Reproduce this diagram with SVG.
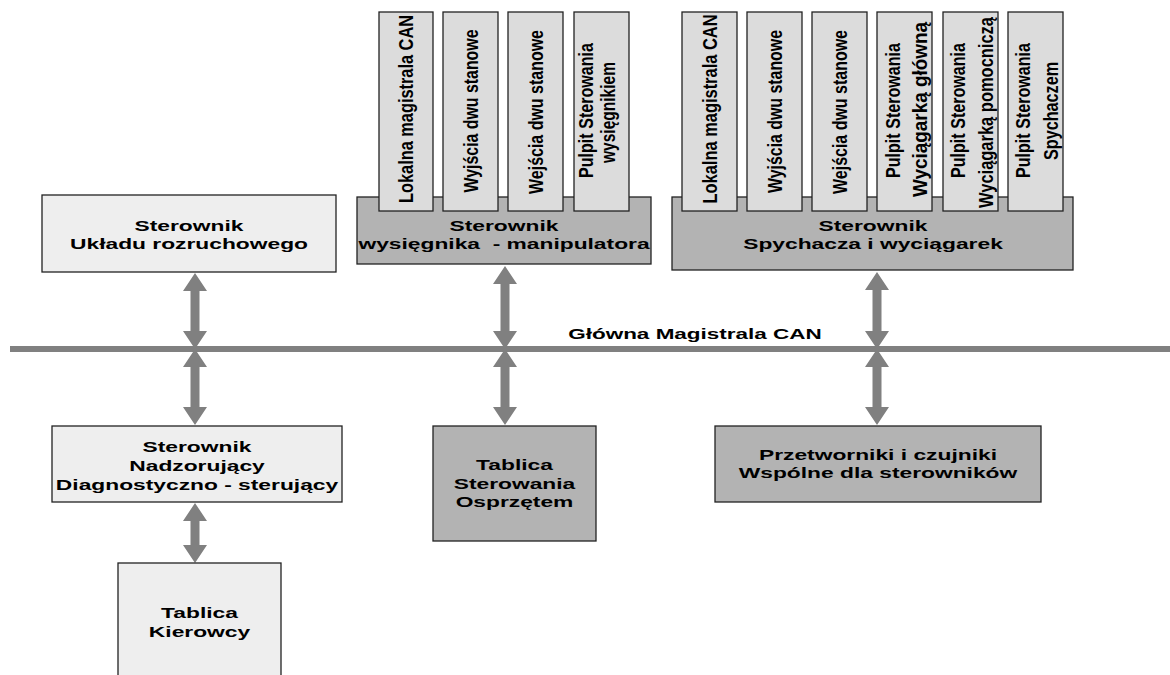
<svg xmlns="http://www.w3.org/2000/svg" width="1170" height="675" viewBox="0 0 1170 675">
<style>
.lt{fill:#eeeeee;stroke:#222;stroke-width:1.3}
.md{fill:#dcdcdc;stroke:#222;stroke-width:1.3}
.dk{fill:#b3b3b3;stroke:#222;stroke-width:1.3}
.h{font-family:"Liberation Sans",Arial,sans-serif;font-weight:bold;font-size:15px;text-anchor:middle;fill:#000;white-space:pre}
.v{font-family:"Liberation Sans",Arial,sans-serif;font-weight:bold;font-size:16px;text-anchor:middle;fill:#000}
.ar{fill:#808080}
</style>
<rect width="1170" height="675" fill="#fff"/>

<g id="bus">
<rect x="10" y="346" width="1160" height="6" fill="#808080"/>
<text class="h" transform="translate(695,339) scale(1.5,1)">Główna Magistrala CAN</text>
</g>

<g id="connectors">
<path class="ar" d="M195,273 L207,291 L199.5,291 L199.5,331 L207,331 L195,349 L183,331 L190.5,331 L190.5,291 L183,291 Z"/>
<path class="ar" d="M195,349 L207,367 L199.5,367 L199.5,407 L207,407 L195,425 L183,407 L190.5,407 L190.5,367 L183,367 Z"/>
<path class="ar" d="M195,503 L207,521 L199.5,521 L199.5,545 L207,545 L195,563 L183,545 L190.5,545 L190.5,521 L183,521 Z"/>
<path class="ar" d="M505,266 L517,284 L509.5,284 L509.5,331 L517,331 L505,349 L493,331 L500.5,331 L500.5,284 L493,284 Z"/>
<path class="ar" d="M505,349 L517,367 L509.5,367 L509.5,407 L517,407 L505,425 L493,407 L500.5,407 L500.5,367 L493,367 Z"/>
<path class="ar" d="M877,272 L889,290 L881.5,290 L881.5,331 L889,331 L877,349 L865,331 L872.5,331 L872.5,290 L865,290 Z"/>
<path class="ar" d="M877,349 L889,367 L881.5,367 L881.5,407 L889,407 L877,425 L865,407 L872.5,407 L872.5,367 L865,367 Z"/>
</g>

<g id="uklad-rozruchowy">
<rect class="lt" x="42" y="195" width="294" height="77"/>
<text class="h" transform="translate(189,231) scale(1.52,1)">Sterownik</text>
<text class="h" transform="translate(189,249) scale(1.52,1)">Układu rozruchowego</text>
</g>

<g id="sterownik-wysiegnika">
<rect class="dk" x="357" y="197" width="294" height="67"/>
<text class="h" transform="translate(504,231) scale(1.52,1)">Sterownik</text>
<text class="h" transform="translate(504,249) scale(1.52,1)">wysięgnika  - manipulatora</text>
</g>

<g id="w-lokalna">
<rect class="md" x="379" y="12" width="54" height="199"/>
<text class="v" transform="translate(413,109) rotate(-90) scale(1,1.28)" textLength="188" lengthAdjust="spacingAndGlyphs">Lokalna magistrala CAN</text>
</g>
<g id="w-wyjscia">
<rect class="md" x="443" y="12" width="55" height="199"/>
<text class="v" transform="translate(478,111) rotate(-90) scale(1,1.28)" textLength="163" lengthAdjust="spacingAndGlyphs">Wyjścia dwu stanowe</text>
</g>
<g id="w-wejscia">
<rect class="md" x="508" y="12" width="55" height="199"/>
<text class="v" transform="translate(543,112) rotate(-90) scale(1,1.28)" textLength="164" lengthAdjust="spacingAndGlyphs">Wejścia dwu stanowe</text>
</g>
<g id="w-pulpit">
<rect class="md" x="574" y="12" width="55" height="199"/>
<text class="v" transform="translate(593,110.5) rotate(-90) scale(1,1.28)" textLength="135" lengthAdjust="spacingAndGlyphs">Pulpit Sterowania</text>
<text class="v" transform="translate(615,112.5) rotate(-90) scale(1,1.28)" textLength="101" lengthAdjust="spacingAndGlyphs">wysięgnikiem</text>
</g>

<g id="sterownik-spychacza">
<rect class="dk" x="672" y="197" width="401" height="73"/>
<text class="h" transform="translate(873,231) scale(1.52,1)">Sterownik</text>
<text class="h" transform="translate(873,249) scale(1.52,1)">Spychacza i wyciągarek</text>
</g>

<g id="s-lokalna">
<rect class="md" x="682" y="12" width="55" height="199"/>
<text class="v" transform="translate(717,109) rotate(-90) scale(1,1.28)" textLength="189" lengthAdjust="spacingAndGlyphs">Lokalna magistrala CAN</text>
</g>
<g id="s-wyjscia">
<rect class="md" x="747" y="12" width="55" height="199"/>
<text class="v" transform="translate(782,111.5) rotate(-90) scale(1,1.28)" textLength="163" lengthAdjust="spacingAndGlyphs">Wyjścia dwu stanowe</text>
</g>
<g id="s-wejscia">
<rect class="md" x="812" y="12" width="55" height="199"/>
<text class="v" transform="translate(847,112) rotate(-90) scale(1,1.28)" textLength="164" lengthAdjust="spacingAndGlyphs">Wejścia dwu stanowe</text>
</g>
<g id="s-pulpit-glowna">
<rect class="md" x="877" y="12" width="55" height="199"/>
<text class="v" transform="translate(900,110.5) rotate(-90) scale(1,1.28)" textLength="135" lengthAdjust="spacingAndGlyphs">Pulpit Sterowania</text>
<text class="v" transform="translate(927,109.5) rotate(-90) scale(1,1.28)" textLength="175" lengthAdjust="spacingAndGlyphs">Wyciągarką główną</text>
</g>
<g id="s-pulpit-pomocnicza">
<rect class="md" x="943" y="12" width="55" height="199"/>
<text class="v" transform="translate(965,110.5) rotate(-90) scale(1,1.28)" textLength="135" lengthAdjust="spacingAndGlyphs">Pulpit Sterowania</text>
<text class="v" transform="translate(993,112.5) rotate(-90) scale(1,1.28)" textLength="191" lengthAdjust="spacingAndGlyphs">Wyciągarką pomocniczą</text>
</g>
<g id="s-pulpit-spychacz">
<rect class="md" x="1008" y="12" width="55" height="199"/>
<text class="v" transform="translate(1030,110.5) rotate(-90) scale(1,1.28)" textLength="135" lengthAdjust="spacingAndGlyphs">Pulpit Sterowania</text>
<text class="v" transform="translate(1058,111) rotate(-90) scale(1,1.28)" textLength="98" lengthAdjust="spacingAndGlyphs">Spychaczem</text>
</g>

<g id="sterownik-nadzorujacy">
<rect class="lt" x="52" y="426" width="290" height="76"/>
<text class="h" transform="translate(197,452) scale(1.52,1)">Sterownik</text>
<text class="h" transform="translate(197,471) scale(1.52,1)">Nadzorujący</text>
<text class="h" transform="translate(197,490) scale(1.52,1)">Diagnostyczno - sterujący</text>
</g>

<g id="tablica-kierowcy">
<rect class="lt" x="118" y="563" width="163" height="120"/>
<text class="h" transform="translate(199.5,618) scale(1.52,1)">Tablica</text>
<text class="h" transform="translate(199.5,637) scale(1.52,1)">Kierowcy</text>
</g>

<g id="tablica-osprzet">
<rect class="dk" x="433" y="426" width="163" height="115"/>
<text class="h" transform="translate(514.5,470) scale(1.52,1)">Tablica</text>
<text class="h" transform="translate(514.5,489) scale(1.52,1)">Sterowania</text>
<text class="h" transform="translate(514.5,507) scale(1.52,1)">Osprzętem</text>
</g>

<g id="przetworniki">
<rect class="dk" x="715" y="426" width="326" height="76"/>
<text class="h" transform="translate(878,460) scale(1.52,1)">Przetworniki i czujniki</text>
<text class="h" transform="translate(878,478) scale(1.52,1)">Wspólne dla sterowników</text>
</g>
</svg>
